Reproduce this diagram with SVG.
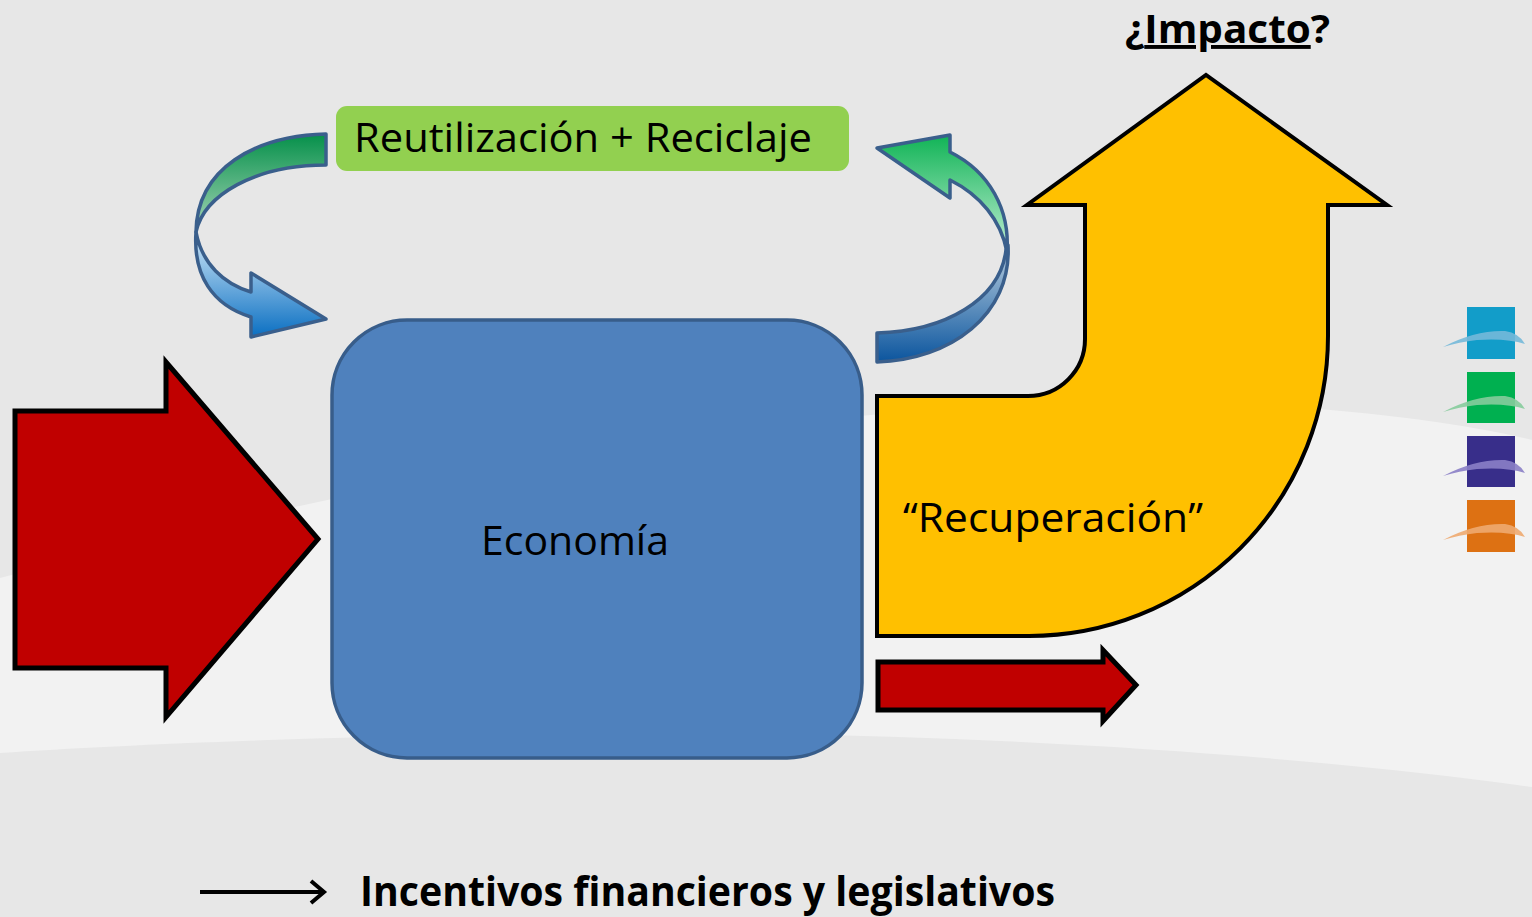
<svg xmlns="http://www.w3.org/2000/svg" width="1532" height="917" viewBox="0 0 1532 917">
<style>
.lbl{font-family:"Open Sans","Liberation Sans",sans-serif;fill:#000}
.red{fill:#c00000;stroke:#000;stroke-width:5;stroke-linejoin:miter}
.curv{stroke:#3a5f8c;stroke-width:3.5;stroke-linejoin:round}
</style>
<defs>
<linearGradient id="gL" x1="0" y1="0" x2="0" y2="1"><stop offset="0" stop-color="#05904a"/><stop offset="1" stop-color="#a8d6b8"/></linearGradient>
<linearGradient id="bL" x1="0" y1="0" x2="0" y2="1"><stop offset="0" stop-color="#d4eaf9"/><stop offset="1" stop-color="#0a6fc2"/></linearGradient>
<linearGradient id="gR" x1="0" y1="0" x2="0" y2="1"><stop offset="0" stop-color="#10b456"/><stop offset="1" stop-color="#c0eed3"/></linearGradient>
<linearGradient id="bR" x1="0" y1="0" x2="0" y2="1"><stop offset="0" stop-color="#bcd0e0"/><stop offset="1" stop-color="#0b559e"/></linearGradient>
<path id="sw" d="M-24,40 Q8,23 38,24 Q52,26 58,37 Q40,31 10,33 Q-8,35 -24,40 Z"/>
</defs>
<rect width="1532" height="917" fill="#e7e7e7"/>
<path d="M0,578 C300,500 700,410 1100,402 C1300,400 1450,420 1532,440 L1532,787 C1300,755 1000,735 700,733 C400,733 150,743 0,753 Z" fill="#f2f2f2"/>

<g id="legend-squares">
<rect x="1467" y="307" width="48" height="52" fill="#129dc9"/>
<use href="#sw" transform="translate(1467,307)" fill="#74b9d9" fill-opacity="0.9"/>
<rect x="1467" y="372" width="48" height="51" fill="#00b050"/>
<use href="#sw" transform="translate(1467,372)" fill="#86cc9c" fill-opacity="0.9"/>
<rect x="1467" y="436" width="48" height="51" fill="#382e8a"/>
<use href="#sw" transform="translate(1467,436)" fill="#8b80c6" fill-opacity="0.9"/>
<rect x="1467" y="500" width="48" height="52" fill="#dd7113"/>
<use href="#sw" transform="translate(1467,500)" fill="#eeaa70" fill-opacity="0.9"/>
</g>

<g id="connectors">
<g id="loop-left">
<path class="curv" fill="url(#gL)" d="M326,134 C255,136 197,168 196,232 C204,195 255,165 326,165 Z"/>
<path class="curv" fill="url(#bL)" d="M196,232 C193,275 212,305 251,317 L251,337 L326,319 L251,273 L251,292 C224,284 202,264 196,232 Z"/>
</g>
<g id="loop-right">
<path class="curv" fill="url(#gR)" d="M1007,252 C1010,210 990,172 950,152 L950,135 L877,148 L950,198 L950,180 C980,195 1001,220 1007,252 Z"/>
<path class="curv" fill="url(#bR)" d="M1008,245 C1012,315 950,360 877,362 L877,333 C945,331 1000,300 1006,250 Z"/>
</g>
<g id="arrow-input">
<path class="red" d="M15,411 L166,411 L166,362 L318,539 L166,717 L166,668 L15,668 Z"/>
</g>
<g id="arrow-output">
<path class="red" stroke-width="4.5" d="M878,662 L1103,662 L1103,650 L1136,685 L1103,721 L1103,710 L878,710 Z"/>
</g>
</g>

<g id="node-economia">
<rect x="332" y="320" width="530" height="438" rx="75" ry="75" fill="#4f81bd" stroke="#385d8a" stroke-width="3.5"/>
<text class="lbl" x="575" y="555" font-size="41" text-anchor="middle">Economía</text>
</g>

<g id="node-reutilizacion">
<rect x="336" y="106" width="513" height="65" rx="11" ry="11" fill="#92d050"/>
<text class="lbl" x="354" y="152" font-size="41" textLength="458" lengthAdjust="spacingAndGlyphs">Reutilización + Reciclaje</text>
</g>

<g id="node-recuperacion">
<path d="M877,396 L1028,396 A57,57 0 0 0 1085,339 L1085,205 L1027,205 L1206,75 L1387,205 L1328,205 L1328,336 A299,300 0 0 1 1029,636 L877,636 Z" fill="#ffc000" stroke="#000" stroke-width="4" stroke-linejoin="miter"/>
<text class="lbl" x="903" y="532" font-size="41" textLength="300" lengthAdjust="spacingAndGlyphs">“Recuperación”</text>
</g>

<g id="node-impacto">
<text class="lbl" x="1125" y="43" font-size="39" font-weight="bold" textLength="205" lengthAdjust="spacingAndGlyphs">¿<tspan text-decoration="underline">Impacto</tspan>?</text>
</g>

<g id="legend-incentivos">
<line x1="200" y1="892" x2="323" y2="892" stroke="#000" stroke-width="4"/>
<polyline points="311,881 324,892 311,903" fill="none" stroke="#000" stroke-width="4"/>
<text class="lbl" x="360" y="906" font-size="41" font-weight="bold" textLength="695" lengthAdjust="spacingAndGlyphs">Incentivos financieros y legislativos</text>
</g>
</svg>
